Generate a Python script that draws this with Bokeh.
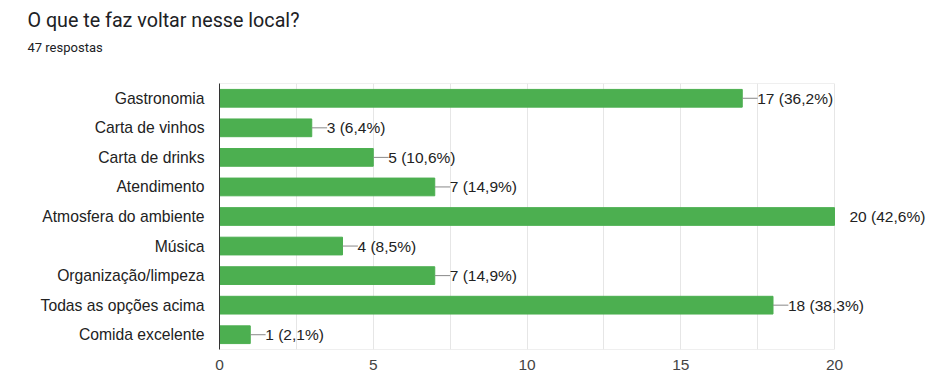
from bokeh.plotting import figure
from bokeh.models import (Range1d, FixedTicker, ColumnDataSource, LabelSet, Title)
from bokeh.core.properties import value
from bokeh.embed import file_html
from bokeh.resources import INLINE

title_text = "O que te faz voltar nesse local?"
subtitle_text = "47 respostas"
total = 47
categories = ["Gastronomia", "Carta de vinhos", "Carta de drinks", "Atendimento",
              "Atmosfera do ambiente", "Música", "Organização/limpeza",
              "Todas as opções acima", "Comida excelente"]
values = [17, 3, 5, 7, 20, 4, 7, 18, 1]
x_ticks = [0, 5, 10, 15, 20]
x_max = 20

labels = ["%d (%s%%)" % (v, ("%.1f" % (100.0 * v / total)).replace(".", ",")) for v in values]
lead_len = 0.5
src = ColumnDataSource(dict(cat=categories, val=values, lab=labels,
                            lead=[v + lead_len if v < x_max else v for v in values]))

FONT = "Liberation Sans"
W, H = 926, 372
FRAME_L, FRAME_R20 = 219, 834
x_end = x_max * (W - FRAME_L) / (FRAME_R20 - FRAME_L)

p = figure(width=W, height=H, output_backend="svg", toolbar_location=None,
           y_range=list(reversed(categories)), x_range=Range1d(0, x_end),
           min_border_left=FRAME_L, min_border_right=0, min_border_top=0,
           min_border_bottom=23)
p.title = None

# blank spacer (non-breaking space) between the subtitle and the frame
p.add_layout(Title(text="\u00a0", align="left", text_font="Roboto", text_font_size="13px",
                   text_color="white", standoff=12), "above")
p.add_layout(Title(text=subtitle_text, align="left", offset=-192, text_font="Roboto",
                   text_font_size="13px", text_font_style="normal", text_color="#202124",
                   standoff=0), "above")
p.add_layout(Title(text=title_text, align="left", offset=-192, text_font="Roboto",
                   text_font_size="19.7px", text_font_style="normal", text_color="#202124",
                   standoff=12), "above")

p.hbar(y="cat", right="val", left=0, height=0.6, source=src,
       fill_color="#4caf50", line_color="#4caf50")
p.segment(x0="val", y0="cat", x1="lead", y1="cat", source=src,
          line_color="#888888", line_width=1)

# frame borders (top / bottom) up to the axis maximum
n = len(categories)
p.segment(x0=[0, 0], y0=[0, n], x1=[x_max, x_max], y1=[0, n],
          line_color="#e0e0e0", line_width=1)

p.add_layout(LabelSet(x="val", y="cat", text="lab", source=src, x_offset=15,
                      text_baseline="middle", text_align="left",
                      text_font=value(FONT), text_font_size=value("15.5px"),
                      text_color="#222222"))

p.outline_line_color = None

p.xgrid.ticker = FixedTicker(ticks=[i * 2.5 for i in range(9)])
p.xgrid.grid_line_color = "#e6e6e6"
p.ygrid.grid_line_color = None

xa = p.below[0]
xa.ticker = FixedTicker(ticks=x_ticks)
xa.axis_line_color = None
xa.major_tick_line_color = None
xa.minor_tick_line_color = None
xa.major_tick_out = 0
xa.major_label_standoff = 10
xa.major_label_text_font = FONT
xa.major_label_text_font_size = "15.5px"
xa.major_label_text_color = "#444444"

ya = p.left[0]
ya.axis_line_color = "#333333"
ya.major_tick_line_color = None
ya.minor_tick_line_color = None
ya.major_tick_out = 0
ya.major_label_standoff = 15
ya.major_label_text_font = FONT
ya.major_label_text_font_size = "15.7px"
ya.major_label_text_color = "#222222"

open("out.html", "w").write(file_html(p, INLINE))
